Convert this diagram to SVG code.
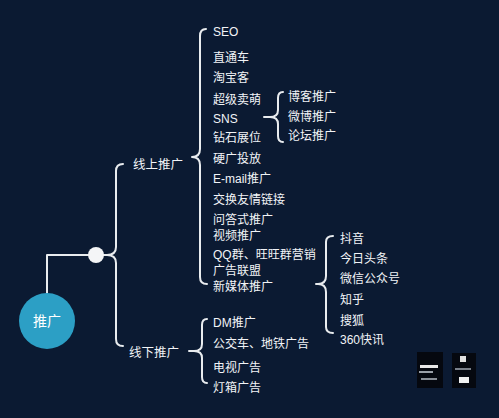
<svg xmlns="http://www.w3.org/2000/svg" width="499" height="418" viewBox="0 0 499 418">
<style>
.t{font-family:"Liberation Sans","Noto Sans CJK SC",sans-serif;font-size:12px;fill:#f2f4f7}
.l1{font-size:12.5px}
.root{font-size:14px;fill:#ffffff;text-anchor:middle}
.c{fill:none;stroke:#e9ecef;stroke-width:2;stroke-linecap:round;stroke-linejoin:round}
</style>
<rect width="499" height="418" fill="#0b1a32"/>
<g id="connectors">
<path class="c" d="M47 293 L47 255 L88 255"/>
<path class="c" d="M103 255 L107 255 Q116 255 116 247 L116 171 Q116 164 123 164 M107 255 Q116 255 116 263 L116 339 Q116 346 123 346"/>
<path class="c" d="M192 157 Q200 157 200 149 L200 36 Q200 29 206 29 M192 157 Q200 157 200 165 L200 277 Q200 284 207 284"/>
<path class="c" d="M264 117 L270 117 Q278 117 278 110 L278 98 Q278 92 283 92 M270 117 Q278 117 278 124 L278 136 Q278 142 283 142"/>
<path class="c" d="M316 284 L318 284 Q326 284 326 276 L326 242 Q326 236 333 236 M318 284 Q326 284 326 292 L326 327 Q326 333 333 333"/>
<path class="c" d="M189 351 L194 351 Q202 351 202 344 L202 325 Q202 319 207 319 M194 351 Q202 351 202 358 L202 377 Q202 383 207 383"/>
</g>
<g id="node-root">
<circle cx="47" cy="321" r="28" fill="#2c9fc5"/>
<text class="t root" x="47" y="326">推广</text>
</g>
<g id="node-hub"><circle cx="96" cy="255" r="8" fill="#f4f5f7"/></g>
<g id="node-online"><text class="t l1" x="133" y="168.5">线上推广</text></g>
<g id="node-offline"><text class="t l1" x="129" y="356.5">线下推广</text></g>
<g id="node-online-items">
<text class="t" x="213" y="35.5">SEO</text>
<text class="t" x="213" y="61.5">直通车</text>
<text class="t" x="213" y="81.5">淘宝客</text>
<text class="t" x="213" y="103.5">超级卖萌</text>
<text class="t" x="213" y="122.5">SNS</text>
<text class="t" x="213" y="141.5">钻石展位</text>
<text class="t" x="213" y="162.5">硬广投放</text>
<text class="t" x="213" y="182.5">E-mail推广</text>
<text class="t" x="213" y="203.5">交换友情链接</text>
<text class="t" x="213" y="223.5">问答式推广</text>
<text class="t" x="213" y="239.5">视频推广</text>
<text class="t" x="213" y="258.5">QQ群、旺旺群营销</text>
<text class="t" x="213" y="274.5">广告联盟</text>
<text class="t" x="213" y="290.5">新媒体推广</text>
</g>
<g id="node-sns-items">
<text class="t" x="288" y="100.5">博客推广</text>
<text class="t" x="288" y="120.5">微博推广</text>
<text class="t" x="288" y="139.5">论坛推广</text>
</g>
<g id="node-media-items">
<text class="t" x="340" y="242.5">抖音</text>
<text class="t" x="340" y="262.5">今日头条</text>
<text class="t" x="340" y="282.5">微信公众号</text>
<text class="t" x="340" y="303.5">知乎</text>
<text class="t" x="340" y="324.5">搜狐</text>
<text class="t" x="340" y="343.5">360快讯</text>
</g>
<g id="node-offline-items">
<text class="t" x="213" y="326.5">DM推广</text>
<text class="t" x="213" y="347.5">公交车、地铁广告</text>
<text class="t" x="213" y="371.5">电视广告</text>
<text class="t" x="213" y="391.5">灯箱广告</text>
</g>
<g id="watermark">
<rect x="417" y="352" width="26" height="36" fill="#05080f"/>
<rect x="452" y="353" width="24" height="35" fill="#05080f"/>
<rect x="420" y="365" width="18" height="3" fill="#e8e8e8"/>
<rect x="419" y="371" width="14" height="2" fill="#9aa0a8"/>
<rect x="421" y="378" width="16" height="2" fill="#8a9098"/>
<rect x="460" y="356" width="6" height="6" fill="#e0e0e0"/>
<rect x="459" y="377" width="10" height="6" fill="#f0f0f0"/>
<rect x="455" y="368" width="16" height="2" fill="#7a808a"/>
</g>
</svg>
